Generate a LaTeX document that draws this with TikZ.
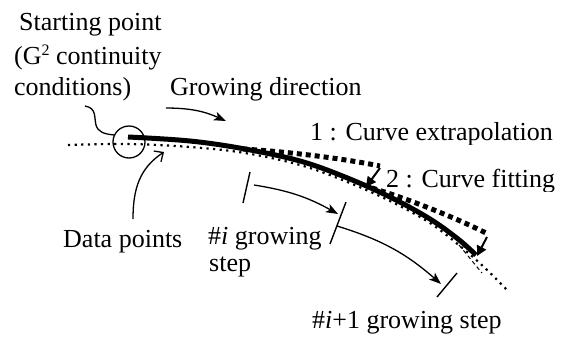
\documentclass[tikz,border=0pt]{standalone}
\usepackage{fontspec}
\setmainfont{Liberation Serif}
\usetikzlibrary{arrows.meta}
\begin{document}
\begin{tikzpicture}[x=1pt,y=-1pt,
  txt/.style={font=\rmfamily\fontsize{26}{30}\selectfont, inner sep=0pt, anchor=base west},
  datapts/.style={line width=2.2pt, dash pattern=on 2.2pt off 4.4pt},
  fitted/.style={line width=5pt},
  extrap/.style={line width=5pt, dash pattern=on 5pt off 4pt},
  stepmark/.style={line width=1.4pt},
  leaderline/.style={line width=1.3pt},
  steparrow/.style={line width=1.3pt, -{Stealth[length=12pt,width=9pt,inset=3pt]}},
  barbarrow/.style={line width=1.3pt, -{Straight Barb[length=7pt,width=13pt]}},
  fitarrow/.style={line width=2pt, -{Triangle[length=10pt,width=10pt]}},
]
\useasboundingbox (0,0) rectangle (566,338);

% measured data points
\draw[datapts] plot[smooth, tension=0.6] coordinates
  {(68,145) (128,144) (190,147) (245,153) (300,165) (345,181) (390,201) (430,223) (460,246) (485,268) (507,290)};

% fitted curve grown so far
\draw[fitted] plot[smooth, tension=0.6] coordinates
  {(128,137) (190,141) (245,149) (300,161) (345,177) (390,197) (430,219) (458,239) (476,255)};

% extrapolated pieces
\draw[extrap] (243,149) .. controls (290,152) and (340,158) .. (380,166);
\draw[extrap] (372,188) .. controls (408,199) and (452,216) .. (488,234);
\draw[line width=1pt, dash pattern=on 4pt off 3pt] (459,245) -- (482,273);

% fitting corrections
\coordinate (e1) at (380,168);
\coordinate (f1) at (366,187);
\coordinate (e2) at (487,237);
\coordinate (f2) at (477,256);
\draw[fitarrow] (e1) -- (f1);
\draw[fitarrow] (e2) -- (f2);

% starting point
\node[draw, circle, line width=1.3pt, minimum size=32pt, inner sep=0pt] (sp) at (129,142) {};
\coordinate (ld) at (85,106);
\draw[leaderline] (ld) .. controls (97,108) and (94,118) .. (96,125)
  .. controls (98,132) and (104,134) .. (sp.155);

% labels
\node[txt] (s1) at (19,30) {Starting point};
\node[txt] (s2) at (14,64) {(G\raisebox{9pt}{\fontsize{16}{16}\selectfont 2} continuity};
\node[txt] (s3) at (14,95) {conditions)};
\node[txt] (gd) at (170,95) {Growing direction};
\begin{scope}
  \clip (300,110) rectangle (566,144);
  \node[txt] (ex) at (310,140) {1 : Curve extrapolation};
\end{scope}
\begin{scope}
  \clip (380,160) rectangle (566,191);
  \node[txt] (cf) at (386,187) {2 : Curve fitting};
\end{scope}
\node[txt] (dp) at (63,247) {Data points};
\node[txt] (g1) at (208,244) {\#\textit{i} growing};
\node[txt] (g2) at (209,271) {step};
\node[txt] (g3) at (312,328) {\#\textit{i}+1 growing step};

% growing direction
\coordinate (ga) at (166,108);
\coordinate (gb) at (226,121);
\draw[steparrow] (ga) to[bend left=12] (gb);

% data points pointer
\coordinate (da) at (133,219);
\coordinate (db) at (164,152);
\draw[barbarrow] (da) .. controls (133,188) and (140,168) .. (db);

% growing step marks
\coordinate (t1a) at (250,172); \coordinate (t1b) at (243,203);
\coordinate (t2a) at (346,202); \coordinate (t2b) at (330,244);
\coordinate (t3a) at (457,273); \coordinate (t3b) at (437,297);
\draw[stepmark] (t1a) -- (t1b);
\draw[stepmark] (t2a) -- (t2b);
\draw[stepmark] (t3a) -- (t3b);

\coordinate (aa) at (254,185); \coordinate (ab) at (338,214);
\coordinate (ba) at (337,226); \coordinate (bb) at (441,284);
\draw[steparrow] (aa) to[bend left=10] (ab);
\draw[steparrow] (ba) to[bend left=12] (bb);
\end{tikzpicture}
\end{document}
